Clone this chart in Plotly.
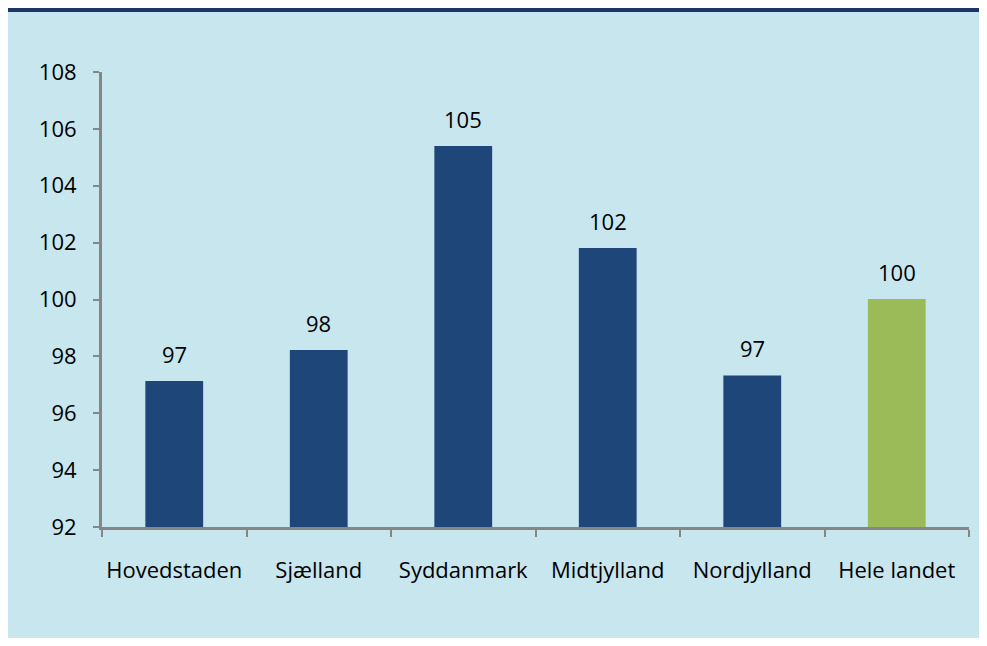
import plotly.graph_objects as go

categories = ["Hovedstaden", "Sjælland", "Syddanmark", "Midtjylland", "Nordjylland", "Hele landet"]
values = [97.13, 98.22, 105.4, 101.81, 97.33, 100.02]
bar_colors = ["#1F4678", "#1F4678", "#1F4678", "#1F4678", "#1F4678", "#9BBB59"]
y_ticks = [92, 94, 96, 98, 100, 102, 104, 106, 108]

# the page places the figure at (8, 8); size it to fit the window
W, H = 971, 630
ml, mr, mt, mb = 94, 10, 64, 111
pw, ph = W - ml - mr, H - mt - mb

FONT = "Open Sans"
FS = 22

fig = go.Figure(go.Bar(
    x=categories, y=values,
    marker=dict(color=bar_colors, line=dict(width=0)),
    hoverinfo="x+y",
))

for c, v in zip(categories, values):
    fig.add_annotation(
        x=c, y=v, text=f"{v:.0f}", showarrow=False,
        yanchor="bottom", yshift=10,
        font=dict(family=FONT, size=FS, color="#000000"),
    )

fig.update_layout(
    width=W, height=H,
    margin=dict(l=ml, r=mr, t=mt, b=mb),
    paper_bgcolor="#C8E6EE", plot_bgcolor="#C8E6EE",
    bargap=0.6, showlegend=False,
    font=dict(family=FONT, size=FS, color="#000000"),
    xaxis=dict(
        showline=True, linecolor="#868686", linewidth=3,
        ticks="outside", tickson="boundaries", ticklen=7, tickcolor="#868686", tickwidth=2,
        ticklabelstandoff=22, tickangle=0,
        tickfont=dict(family=FONT, size=FS),
        showgrid=False, zeroline=False,
    ),
    yaxis=dict(
        range=[92, 108], tickvals=y_ticks,
        showline=True, linecolor="#868686", linewidth=3,
        ticks="outside", ticklen=6, tickcolor="#868686", tickwidth=2,
        ticklabelstandoff=12,
        tickfont=dict(family=FONT, size=FS),
        showgrid=False, zeroline=False,
    ),
    shapes=[
        dict(type="rect", xref="paper", yref="paper",
             x0=-ml / pw, x1=1 + mr / pw, y0=1 + (mt - 4) / ph, y1=1 + mt / ph,
             fillcolor="#1B3566", line=dict(width=0), layer="above"),
    ],
)

fig.write_html("out.html", config={"displayModeBar": False})
